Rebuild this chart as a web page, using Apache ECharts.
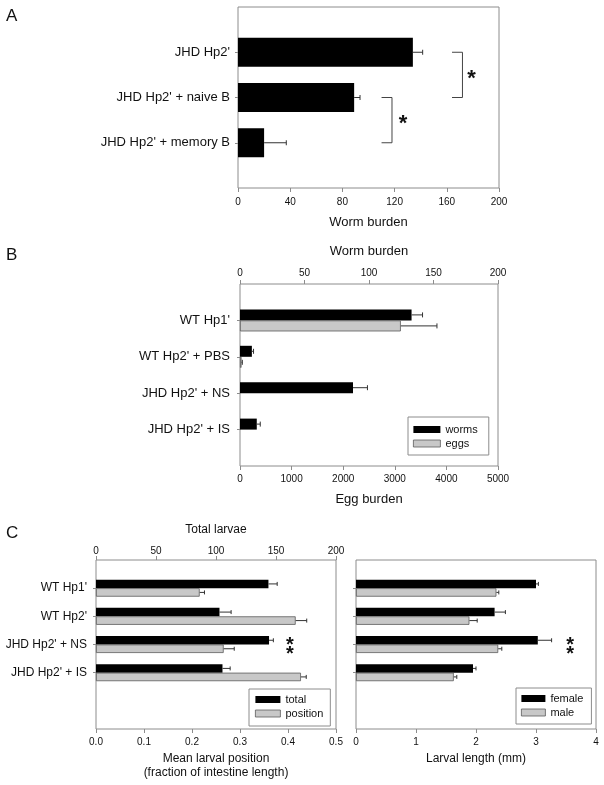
<!DOCTYPE html>
<html><head><meta charset="utf-8">
<script src="https://cdn.jsdelivr.net/npm/echarts@6/dist/echarts.min.js"></script>
<style>html,body{margin:0;padding:0;background:#fff}#c{width:604px;height:785px}</style>
</head><body><div id="c"></div><script>
const FONT = "'Liberation Sans', Arial, sans-serif";

// ---------- Panel A ----------
const catsA = ["JHD Hp2'", "JHD Hp2' + naive B", "JHD Hp2' + memory B"];
const wormsA = [134, 89, 20];
const wormsAErr = [7.5, 4.5, 17];
const ticksA = [0, 40, 80, 120, 160, 200];
// significance brackets: [fromCat, toCat] (1-based positions)
const sigPairsA = [[1, 2], [2, 3]];

// ---------- Panel B ----------
const catsB = ["WT Hp1'", "WT Hp2' + PBS", "JHD Hp2' + NS", "JHD Hp2' + IS"];
const wormsB = [133, 9.2, 87.6, 13];
const wormsBErr = [8.5, 1.3, 11.2, 2.7];
const eggsB = [3117, 30, 0, 0];
const eggsBErr = [700, 15, 0, 0];
const ticksBTop = [0, 50, 100, 150, 200];
const ticksBBottom = [0, 1000, 2000, 3000, 4000, 5000];

// ---------- Panel C ----------
const catsC = ["WT Hp1'", "WT Hp2'", "JHD Hp2' + NS", "JHD Hp2' + IS"];
const totalC = [143.7, 102.9, 144.2, 105.4];
const totalCErr = [7.3, 9.7, 3.6, 6.4];
const positionC = [0.216, 0.416, 0.266, 0.427];
const positionCErr = [0.010, 0.023, 0.022, 0.011];
const femaleC = [3.0, 2.31, 3.03, 1.95];
const femaleCErr = [0.04, 0.18, 0.23, 0.05];
const maleC = [2.34, 1.89, 2.37, 1.63];
const maleCErr = [0.04, 0.13, 0.06, 0.05];
const ticksCTop = [0, 50, 100, 150, 200];
const ticksCPos = [0, 0.1, 0.2, 0.3, 0.4, 0.5];
const ticksCLen = [0, 1, 2, 3, 4];
const sigCatC = 3; // "**" marked group

// ---------- helpers ----------
const GRAY = '#c8c8c8', EDGE = '#5a5a5a', FRAME = '#8c8c8c', ERR = '#333';

function catAxis(gridIndex, data, fontSize, margin, showLabel) {
  return {
    type: 'category', gridIndex, data, inverse: true, boundaryGap: false,
    axisLine: { show: false },
    axisTick: { show: true, inside: false, length: 3, lineStyle: { color: FRAME }, interval: (i, v) => v !== '' },
    axisLabel: { show: showLabel, interval: 0, fontSize, fontFamily: FONT, color: '#111', margin },
    splitLine: { show: false }
  };
}
function valAxis(gridIndex, ticks, position, name, nameGap, labelMargin, fmt, nameSize) {
  return {
    type: 'value', gridIndex, position,
    min: ticks[0], max: ticks[ticks.length - 1], interval: ticks[1] - ticks[0],
    name, nameLocation: 'middle', nameGap,
    nameTextStyle: { fontSize: nameSize, fontFamily: FONT, color: '#111', lineHeight: 14 },
    axisLine: { show: false },
    axisTick: { show: true, inside: false, length: 4, lineStyle: { color: FRAME } },
    axisLabel: { fontSize: 10, fontFamily: FONT, color: '#111', margin: labelMargin, formatter: fmt || (v => String(v)) },
    splitLine: { show: false }
  };
}
function pad(cats, after) { return [''].concat(cats, new Array(after).fill('')); }
function errData(vals, errs) { return vals.map((v, i) => [v, i + 1, errs[i]]); }
function errSeries(xi, yi, vals, errs, offset, cap) {
  return {
    type: 'custom', xAxisIndex: xi, yAxisIndex: yi, silent: true, z: 3,
    data: errData(vals, errs), encode: { x: 0, y: 1 },
    renderItem: function (params, api) {
      const m = api.value(0), c = api.value(1), e = api.value(2);
      if (!(e > 0)) return null;
      const p0 = api.coord([m, c]), p1 = api.coord([m + e, c]);
      const y = p0[1] + offset;
      const st = { stroke: ERR, lineWidth: 1 };
      return { type: 'group', children: [
        { type: 'line', shape: { x1: p0[0], y1: y, x2: p1[0], y2: y }, style: st },
        { type: 'line', shape: { x1: p1[0], y1: y - cap, x2: p1[0], y2: y + cap }, style: st }
      ] };
    }
  };
}
function barSeries(name, xi, yi, vals, width, gray) {
  return {
    type: 'bar', name, xAxisIndex: xi, yAxisIndex: yi,
    data: vals.map((v, i) => v > 0 ? [v, i + 1] : { value: [v, i + 1], itemStyle: { borderWidth: 0, opacity: 0 } }),
    barWidth: width, barGap: '0%', silent: true,
    itemStyle: gray ? { color: GRAY, borderColor: EDGE, borderWidth: 0.8 } : { color: '#000' }
  };
}
function legend(names, left, top, padding, iw) {
  return {
    orient: 'vertical', left, top, padding, itemGap: 1, itemWidth: iw, itemHeight: 7,
    borderColor: FRAME, borderWidth: 1, selectedMode: false, icon: 'rect',
    textStyle: { fontSize: 11, fontFamily: FONT, color: '#111', lineHeight: 13 },
    data: [{ name: names[0], itemStyle: { color: '#000' } },
           { name: names[1], itemStyle: { color: GRAY, borderColor: EDGE, borderWidth: 0.8 } }]
  };
}
function starPair(params, api) {
  const p = api.coord([api.value(0), api.value(1)]);
  const f = 'bold 20px ' + FONT;
  return { type: 'group', children: [
    { type: 'text', x: p[0], y: p[1] + 0.5, style: { text: '*', font: f, fill: '#111', align: 'center', verticalAlign: 'middle' } },
    { type: 'text', x: p[0], y: p[1] + 9.5, style: { text: '*', font: f, fill: '#111', align: 'center', verticalAlign: 'middle' } }
  ] };
}

const option = {
  animation: false,
  backgroundColor: '#fff',
  textStyle: { fontFamily: FONT },
  graphic: [
    { type: 'text', x: 6, y: 16, style: { text: 'A', font: '17px ' + FONT, fill: '#111', verticalAlign: 'middle' } },
    { type: 'text', x: 6, y: 255, style: { text: 'B', font: '17px ' + FONT, fill: '#111', verticalAlign: 'middle' } },
    { type: 'text', x: 6, y: 533, style: { text: 'C', font: '17px ' + FONT, fill: '#111', verticalAlign: 'middle' } }
  ],
  grid: [
    { left: 238, top: 7, width: 261, height: 181, show: true, borderColor: FRAME, borderWidth: 1 },
    { left: 240, top: 284, width: 258, height: 182, show: true, borderColor: FRAME, borderWidth: 1 },
    { left: 96, top: 560, width: 240, height: 169, show: true, borderColor: FRAME, borderWidth: 1 },
    { left: 356, top: 560, width: 240, height: 169, show: true, borderColor: FRAME, borderWidth: 1 }
  ],
  xAxis: [
    valAxis(0, ticksA, 'bottom', 'Worm burden', 27, 9, null, 13),
    valAxis(1, ticksBTop, 'top', 'Worm burden', 26, 6, null, 13),
    valAxis(1, ticksBBottom, 'bottom', 'Egg burden', 26, 8, null, 13),
    valAxis(2, ticksCTop, 'top', 'Total larvae', 23, 4, null, 12),
    valAxis(2, ticksCPos, 'bottom', 'Mean larval position\n(fraction of intestine length)', 23, 8, v => v.toFixed(1), 12),
    valAxis(3, ticksCLen, 'bottom', 'Larval length (mm)', 23, 8, null, 12)
  ],
  yAxis: [
    catAxis(0, pad(catsA, 1), 13, 8, true),
    catAxis(1, pad(catsB, 1), 13, 10, true),
    catAxis(2, pad(catsC, 2), 12, 9, true),
    catAxis(3, pad(catsC, 2), 12, 9, false)
  ],
  legend: [
    legend(['worms', 'eggs'], 408, 417, [6, 11, 5, 5], 27),
    legend(['total', 'position'], 249, 689, [4, 7, 6, 6], 25),
    legend(['female', 'male'], 516, 688, [4, 8, 5, 5], 24)
  ],
  series: [
    // A
    barSeries('A worms', 0, 0, wormsA, 29, false),
    errSeries(0, 0, wormsA, wormsAErr, 0, 2.5),
    {
      type: 'custom', xAxisIndex: 0, yAxisIndex: 0, silent: true, z: 4,
      data: sigPairsA.map((p, i) => [p[0], p[1], i]),
      encode: { y: 0 },
      renderItem: function (params, api) {
        const a = api.value(0), b = api.value(1), k = api.value(2);
        const xs = k === 0 ? [164, 172, 179] : [110, 118, 126.5];
        const pA = api.coord([xs[0], a]), pB = api.coord([xs[1], b]);
        const sx = api.coord([xs[2], a])[0];
        const sy = (pA[1] + pB[1]) / 2;
        const st = { stroke: '#444', lineWidth: 1 };
        return { type: 'group', children: [
          { type: 'line', shape: { x1: pA[0], y1: pA[1], x2: pB[0], y2: pA[1] }, style: st },
          { type: 'line', shape: { x1: pB[0], y1: pA[1], x2: pB[0], y2: pB[1] }, style: st },
          { type: 'line', shape: { x1: pA[0], y1: pB[1], x2: pB[0], y2: pB[1] }, style: st },
          { type: 'text', x: sx, y: sy + 4, style: { text: '*', font: 'bold 22px ' + FONT, fill: '#111', align: 'center', verticalAlign: 'middle' } }
        ] };
      }
    },
    // B
    barSeries('worms', 1, 1, wormsB, 11, false),
    barSeries('eggs', 2, 1, eggsB, 11, true),
    errSeries(1, 1, wormsB, wormsBErr, -5.5, 2.5),
    errSeries(2, 1, eggsB, eggsBErr, 5.5, 2.5),
    // C left
    barSeries('total', 3, 2, totalC, 8.5, false),
    barSeries('position', 4, 2, positionC, 8.5, true),
    errSeries(3, 2, totalC, totalCErr, -4.25, 2),
    errSeries(4, 2, positionC, positionCErr, 4.25, 2),
    // C right
    barSeries('female', 5, 3, femaleC, 8.5, false),
    barSeries('male', 5, 3, maleC, 8.5, true),
    errSeries(5, 3, femaleC, femaleCErr, -4.25, 2),
    errSeries(5, 3, maleC, maleCErr, 4.25, 2),
    // C stars
    {
      type: 'custom', xAxisIndex: 4, yAxisIndex: 2, silent: true, z: 4,
      data: [[0.404, sigCatC]], encode: { x: 0, y: 1 },
      renderItem: starPair
    },
    {
      type: 'custom', xAxisIndex: 5, yAxisIndex: 3, silent: true, z: 4,
      data: [[3.57, sigCatC]], encode: { x: 0, y: 1 },
      renderItem: starPair
    }
  ]
};
const chart = echarts.init(document.getElementById('c'), null, { renderer: 'canvas' });
chart.setOption(option);
</script></body></html>
